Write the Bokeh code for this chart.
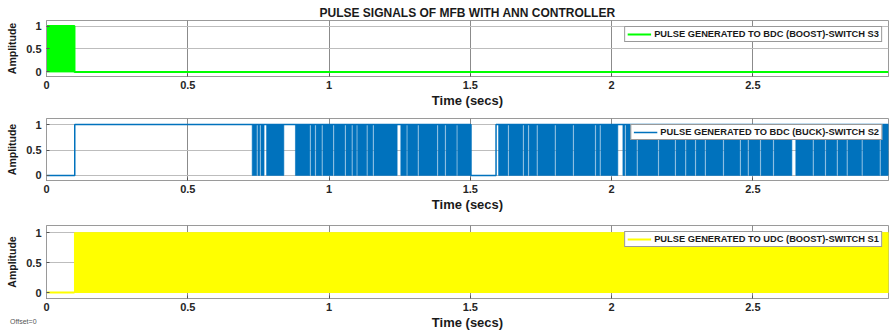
from bokeh.plotting import figure
from bokeh.layouts import column
from bokeh.models import Range1d, FixedTicker, Legend, LegendItem, Div
from bokeh.embed import file_html
from bokeh.resources import INLINE

# ---------------- data ----------------
T_END = 2.98
x_ticks = [0, 0.5, 1, 1.5, 2, 2.5]
x_tick_labels = {0: "0", 0.5: "0.5", 1: "1", 1.5: "1.5", 2: "2", 2.5: "2.5"}
y_ticks = [0, 0.5, 1]
y_tick_labels = {0: "0", 0.5: "0.5", 1: "1"}

title_text = "PULSE SIGNALS OF MFB WITH ANN CONTROLLER"

# S3 : BDC boost switch
s3_label = "PULSE GENERATED TO BDC (BOOST)-SWITCH S3"
s3_burst_start = [0.0]
s3_burst_end = [0.099]
s3_t = [0.0, 0.099, T_END]
s3_v = [1, 0, 0]

# S2 : BDC buck switch
s2_label = "PULSE GENERATED TO BDC (BUCK)-SWITCH S2"
s2_t = [0.0, 0.1, 1.502, 1.591, T_END]
s2_v = [0, 1, 0, 1, 1]
s2_burst_start = [0.728, 0.748, 0.759, 0.779, 0.881, 0.936, 0.954, 0.978, 1.018, 1.060,
                  1.084, 1.101, 1.137, 1.159, 1.254, 1.278, 1.318, 1.386, 1.414, 1.455,
                  1.600, 1.637, 1.690, 1.708, 1.739, 1.803, 1.867, 1.945, 1.962, 2.040,
                  2.051, 2.093, 2.168, 2.228, 2.264, 2.299, 2.334, 2.398, 2.458, 2.486,
                  2.529, 2.575, 2.652, 2.716, 2.759, 2.801, 2.836, 2.889, 2.953]
s2_burst_end = [0.744, 0.755, 0.770, 0.840, 0.932, 0.950, 0.974, 1.014, 1.056, 1.080,
                1.097, 1.133, 1.155, 1.241, 1.274, 1.314, 1.382, 1.410, 1.451, 1.502,
                1.633, 1.686, 1.704, 1.735, 1.799, 1.863, 1.941, 1.958, 2.022, 2.047,
                2.089, 2.164, 2.224, 2.260, 2.295, 2.330, 2.394, 2.454, 2.482, 2.525,
                2.571, 2.638, 2.712, 2.755, 2.797, 2.832, 2.885, 2.949, 2.98]

# S1 : UDC boost switch
s1_label = "PULSE GENERATED TO UDC (BOOST)-SWITCH S1"
s1_t = [0.0, 0.099]
s1_v = [0, 0]
s1_burst_start = [0.099]
s1_burst_end = [T_END]

offset_text = "Offset=0"

GREEN = "#00FF00"
BLUE = "#0072BD"
YELLOW = "#FFFF00"
FONT = "Liberation Sans"


def make_fig(height, top, bottom, with_title=False):
    kw = {}
    if with_title:
        kw["title"] = title_text
    p = figure(width=890, height=height, output_backend="svg", toolbar_location=None,
               x_range=Range1d(0, T_END), y_range=Range1d(-0.1, 1.12),
               min_border_left=46, min_border_right=2, min_border_top=top,
               min_border_bottom=bottom, **kw)
    if with_title:
        p.title.align = "center"
        p.title.text_font = FONT
        p.title.text_font_size = "12px"
        p.title.text_font_style = "bold"
        p.title.text_color = "#1a1a1a"
        p.title.standoff = 2
        p.title.offset = 0
    p.xaxis.ticker = FixedTicker(ticks=x_ticks)
    p.xaxis.major_label_overrides = x_tick_labels
    p.yaxis.ticker = FixedTicker(ticks=y_ticks)
    p.yaxis.major_label_overrides = y_tick_labels
    for ax in (p.xaxis, p.yaxis):
        ax.major_label_text_font = FONT
        ax.major_label_text_font_size = "11px"
        ax.major_label_text_font_style = "bold"
        ax.major_label_text_color = "#262626"
        ax.axis_label_text_font = FONT
        ax.axis_label_text_font_style = "bold"
        ax.axis_label_text_color = "#1a1a1a"
        ax.axis_line_color = "#9a9a9a"
        ax.major_tick_line_color = "#555555"
        ax.major_tick_in = 3
        ax.major_tick_out = 0
        ax.minor_tick_line_color = None
    p.xaxis.axis_label = "Time (secs)"
    p.xaxis.axis_label_text_font_size = "13px"
    p.xaxis.axis_label_standoff = 1
    p.xaxis.major_label_standoff = 4
    p.yaxis.axis_label = "Amplitude"
    p.yaxis.axis_label_text_font_size = "10.5px"
    p.yaxis.axis_label_standoff = 5
    p.yaxis.major_label_standoff = 5
    p.xgrid.grid_line_color = "#6e6e6e"
    p.xgrid.grid_line_alpha = 0.8
    p.ygrid.grid_line_color = "#bdbdbd"
    p.outline_line_color = "#9a9a9a"
    p.background_fill_color = "white"
    p.border_fill_color = "white"
    return p


def add_legend(p, renderer, label, color):
    leg = Legend(items=[LegendItem(label=label, renderers=[renderer])],
                 location="top_right")
    leg.label_text_font = FONT
    leg.label_text_font_size = "9.3px"
    leg.label_text_font_style = "bold"
    leg.label_text_color = "#1a1a1a"
    leg.label_height = 8
    leg.glyph_height = 8
    leg.glyph_width = 24
    leg.label_standoff = 3
    leg.padding = 2
    leg.spacing = 0
    leg.margin = 6
    leg.border_line_color = "#333333"
    leg.border_line_width = 1
    leg.background_fill_color = "white"
    leg.background_fill_alpha = 1
    p.add_layout(leg)


# ---- top: S3 ----
p1 = make_fig(110, 20, 28, with_title=True)
p1.quad(left=s3_burst_start, right=s3_burst_end, bottom=0, top=1,
        fill_color=GREEN, line_color=GREEN, line_width=1)
r1 = p1.step(s3_t, s3_v, mode="after", line_color=GREEN, line_width=2)
add_legend(p1, r1, s3_label, GREEN)

# ---- middle: S2 ----
p2 = make_fig(104, 8, 24)
r2 = p2.step(s2_t, s2_v, mode="after", line_color=BLUE, line_width=1.5)
p2.quad(left=s2_burst_start, right=s2_burst_end, bottom=0, top=1,
        fill_color=BLUE, line_color=BLUE, line_width=0.6)
add_legend(p2, r2, s2_label, BLUE)

# ---- bottom: S1 ----
p3 = make_fig(119, 11, 35)
r3 = p3.step(s1_t, s1_v, mode="after", line_color=YELLOW, line_width=2)
p3.quad(left=s1_burst_start, right=s1_burst_end, bottom=0, top=1,
        fill_color=YELLOW, line_color=YELLOW, line_width=1)
add_legend(p3, r3, s1_label, YELLOW)

offset_div = Div(text=offset_text, width=60, height=10, margin=(-16, 0, 0, 10),
                 styles={"font-family": FONT, "font-size": "7px", "color": "#555555",
                         "line-height": "10px"})

layout = column(p1, p2, p3, offset_div, spacing=0)
open("out.html", "w").write(file_html(layout, INLINE))
